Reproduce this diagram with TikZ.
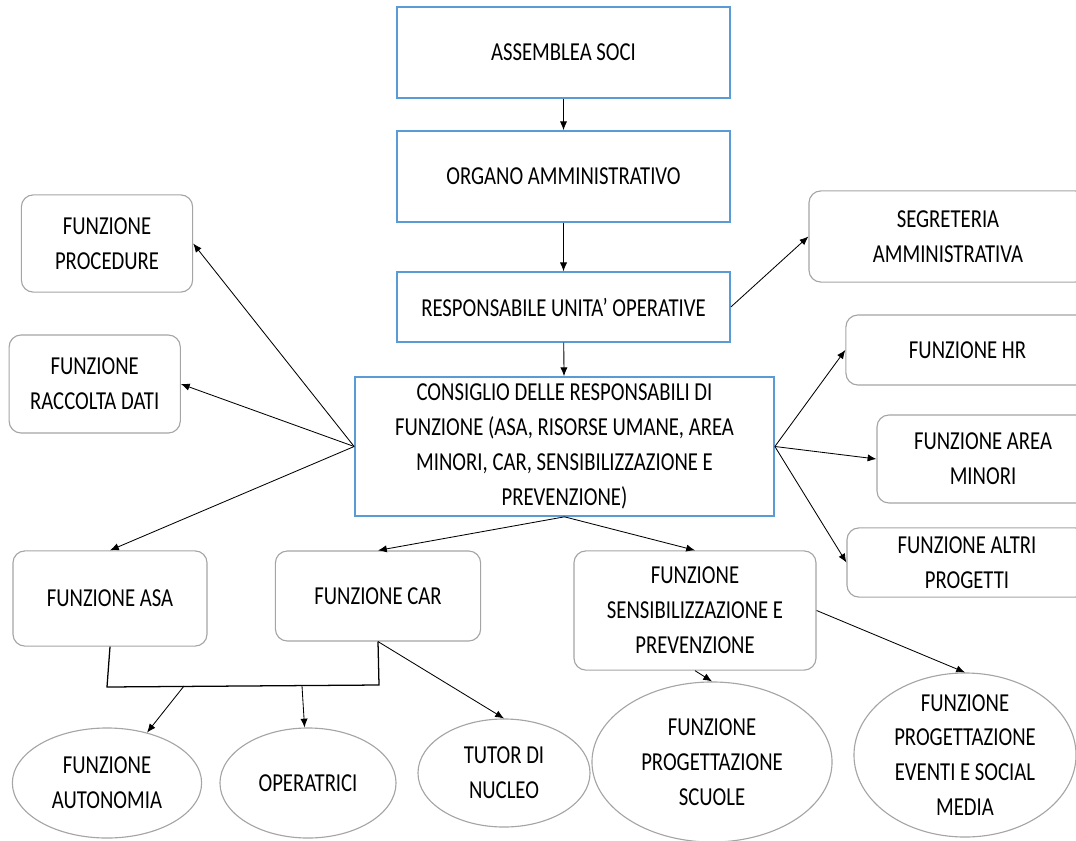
\documentclass[tikz,border=0pt]{standalone}
\usepackage{fontspec}
\setmainfont{Carlito}[FakeStretch=0.8]
\usepackage{tikz}
\usetikzlibrary{shapes.geometric, arrows.meta}
\definecolor{boxblue}{RGB}{91,155,213}
\definecolor{boxgray}{RGB}{165,165,165}
\tikzset{
    level/.style={rectangle, draw=boxblue, line width=1pt, inner sep=2pt, text centered, align=center},
    unit/.style={rectangle, rounded corners=3mm, draw=boxgray, line width=0.8pt, inner sep=2pt, text centered, align=center},
    oval/.style={ellipse, draw=boxgray, line width=0.8pt, inner sep=0pt},
    ovaltext/.style={align=center, inner sep=0pt},
    flow/.style={-{Latex[length=2.2mm,width=1.8mm]}, line width=0.6pt},
    joinline/.style={line width=0.9pt}
}

\begin{document}
\begin{tikzpicture}[
    x=0.025cm, y=-0.025cm,
    every node/.style={font=\fontsize{18.4}{24.8}\selectfont}
]
    \useasboundingbox (0,0) rectangle (1076,840);

    % Main line
    \node[level, minimum width=8.33cm, minimum height=2.28cm] (assemblea) at (563.5,52.5) {ASSEMBLEA SOCI};
    \node[level, minimum width=8.33cm, minimum height=2.28cm] (organo) at (563.5,176.5) {ORGANO AMMINISTRATIVO};
    \node[level, minimum width=8.33cm, minimum height=1.75cm] (resp) at (563.5,307) {RESPONSABILE UNITA’ OPERATIVE};
    \node[level, minimum width=10.48cm, minimum height=3.48cm] (consiglio) at (564.5,446.5) {CONSIGLIO DELLE RESPONSABILI DI\\ FUNZIONE (ASA, RISORSE UMANE, AREA\\ MINORI, CAR, SENSIBILIZZAZIONE E\\ PREVENZIONE)};

    % Side functions
    \node[unit, minimum width=4.28cm, minimum height=2.43cm] (procedure) at (107,243.5) {FUNZIONE\\ PROCEDURE};
    \node[unit, minimum width=4.28cm, minimum height=2.45cm] (raccolta) at (94.7,384) {FUNZIONE\\ RACCOLTA DATI};
    \node[unit, minimum width=6.95cm, minimum height=2.28cm] (segreteria) at (948,236.5) {SEGRETERIA\\ AMMINISTRATIVA};
    \node[unit, minimum width=6.08cm, minimum height=1.75cm] (hr) at (967.5,350) {FUNZIONE HR};
    \node[unit, minimum width=5.3cm, minimum height=2.2cm] (minori) at (983,459) {FUNZIONE AREA\\ MINORI};
    \node[unit, minimum width=6.0cm, minimum height=1.73cm] (altri) at (967,562.5) {FUNZIONE ALTRI\\ PROGETTI};

    % Lower functions
    \node[unit, minimum width=4.85cm, minimum height=2.38cm] (asa) at (110,598.5) {FUNZIONE ASA};
    \node[unit, minimum width=5.13cm, minimum height=2.25cm] (car) at (378,596) {FUNZIONE CAR};
    \node[unit, minimum width=6.05cm, minimum height=2.98cm] (sens) at (695,610.5) {FUNZIONE\\ SENSIBILIZZAZIONE E\\ PREVENZIONE};

    % Ovals
    \node[oval, minimum width=4.73cm, minimum height=2.75cm] (autonomia) at (107,783) {};
    \node[ovaltext] (autonomia-t) at (autonomia) {FUNZIONE\\ AUTONOMIA};
    \node[oval, minimum width=4.4cm, minimum height=2.75cm] (operatrici) at (308,783) {};
    \node[ovaltext] (operatrici-t) at (operatrici) {OPERATRICI};
    \node[oval, minimum width=4.3cm, minimum height=2.7cm] (tutor) at (504,773) {};
    \node[ovaltext] (tutor-t) at (tutor) {TUTOR DI\\ NUCLEO};
    \node[oval, minimum width=6.0cm, minimum height=4.0cm] (scuole) at (712,762) {};
    \node[ovaltext] (scuole-t) at (scuole) {FUNZIONE\\ PROGETTAZIONE\\ SCUOLE};
    \node[oval, minimum width=5.55cm, minimum height=4.1cm] (eventi) at (965,755) {};
    \node[ovaltext] (eventi-t) at (eventi) {FUNZIONE\\ PROGETTAZIONE\\ EVENTI E SOCIAL\\ MEDIA};

    % Joint line under ASA and CAR
    \coordinate (joinL) at (107,687);
    \coordinate (joinR) at (379,685);
    \coordinate (splitA) at (184,686);
    \coordinate (splitB) at (302,686);

    % Flows
    \draw[flow] (assemblea) -- (organo);
    \draw[flow] (organo) -- (resp);
    \draw[flow] (resp) -- (consiglio);
    \draw[flow] (resp.east) -- (segreteria.west);
    \draw[flow] (consiglio.west) -- (procedure.east);
    \draw[flow] (consiglio.west) -- (raccolta.east);
    \draw[flow] (consiglio.west) -- (asa.north);
    \draw[flow] (consiglio.east) -- (hr.west);
    \draw[flow] (consiglio.east) -- (minori.west);
    \draw[flow] (consiglio.east) -- (altri.west);
    \draw[flow] (consiglio.south) -- (car.north);
    \draw[flow] (consiglio.south) -- (sens.north);
    \draw[joinline] (asa.south) -- (joinL) -- (joinR) -- (car.south);
    \draw[flow] (splitA) -- (autonomia);
    \draw[flow] (splitB) -- (operatrici);
    \draw[flow] (car.south) -- (tutor.north);
    \draw[flow] (sens.south) -- (scuole.north);
    \draw[flow] (sens.east) -- (eventi.north);
\end{tikzpicture}
\end{document}
